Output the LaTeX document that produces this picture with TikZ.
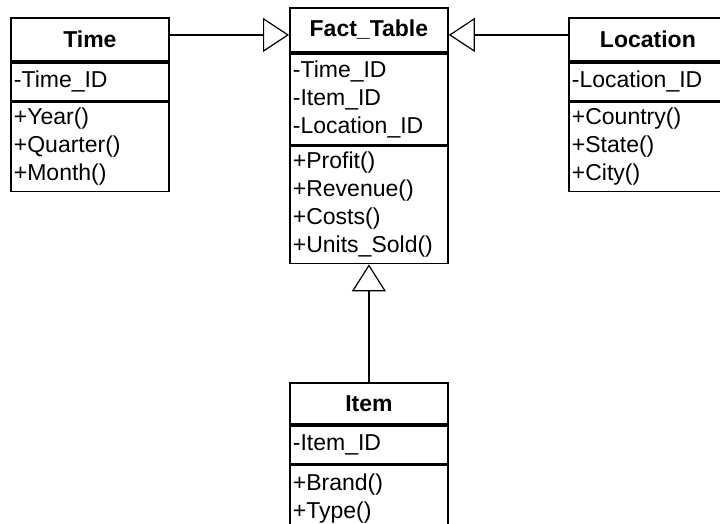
\documentclass[tikz,border=0pt]{standalone}
\usepackage{fontspec}
\setmainfont{Liberation Sans}
\usetikzlibrary{arrows.meta,calc}

\tikzset{
  classpart/.style={draw, line width=1.8pt, anchor=north west,
    text width=152pt, inner xsep=3pt, inner ysep=0pt, align=left,
    font=\fontsize{23}{28}\selectfont},
  classtitle/.style={classpart, align=center,
    font=\fontsize{23}{28}\selectfont\bfseries},
  inherit/.style={line width=1.2pt,
    -{Triangle[open, length=26pt, width=34pt]}},
}

\begin{document}
\begin{tikzpicture}[x=1pt,y=-1pt]
\useasboundingbox (0,0) rectangle (720,523);
\fill[white] (0,0) rectangle (720,523);

% Time dimension
\node[classtitle, minimum height=43pt] (time-t) at (10,17) {Time};
\node[classpart, minimum height=38pt] (time-a) at (time-t.south west) {-Time\_ID};
\node[classpart, minimum height=89pt] (time-m) at (time-a.south west)
  {+Year()\\+Quarter()\\+Month()};

% Fact table
\node[classtitle, minimum height=44pt] (fact-t) at (289,7) {Fact\_Table};
\node[classpart, minimum height=91pt] (fact-a) at (fact-t.south west)
  {-Time\_ID\\-Item\_ID\\-Location\_ID};
\node[classpart, minimum height=117pt] (fact-m) at (fact-a.south west)
  {+Profit()\\+Revenue()\\+Costs()\\+Units\_Sold()};

% Location dimension
\node[classtitle, minimum height=43pt] (loc-t) at (568,17) {Location};
\node[classpart, minimum height=38pt] (loc-a) at (loc-t.south west) {-Location\_ID};
\node[classpart, minimum height=89pt] (loc-m) at (loc-a.south west)
  {+Country()\\+State()\\+City()};

% Item dimension
\node[classtitle, minimum height=41pt] (item-t) at (289,382) {Item};
\node[classpart, minimum height=38pt] (item-a) at (item-t.south west) {-Item\_ID};
\node[classpart, minimum height=66pt] (item-m) at (item-a.south west)
  {+Brand()\\+Type()};

% Generalisation connectors
\coordinate (time-port) at ($(time-t.north east)!0.4!(time-t.south east)$);
\draw[inherit] (time-port) -- (time-port -| fact-t.west);
\coordinate (loc-port) at ($(loc-t.north west)!0.4!(loc-t.south west)$);
\draw[inherit] (loc-port) -- (loc-port -| fact-t.east);
\draw[line width=1.2pt, -{Triangle[open, length=27pt, width=34pt]}]
  (item-t.north) -- (item-t.north |- fact-m.south);
\end{tikzpicture}
\end{document}
